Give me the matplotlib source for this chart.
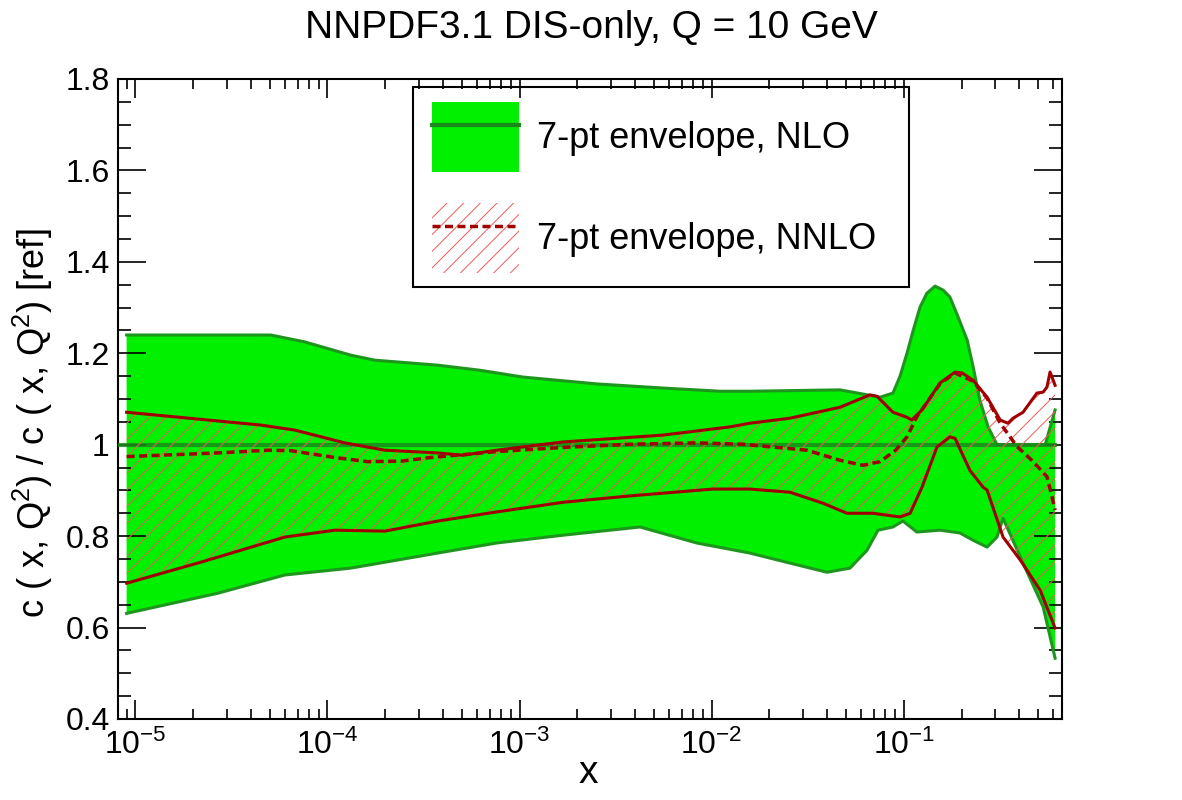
import numpy as np
import matplotlib
matplotlib.use("Agg")
import matplotlib.pyplot as plt
from matplotlib.patches import Patch, Rectangle
from matplotlib.lines import Line2D
from matplotlib.legend_handler import HandlerTuple
from matplotlib.ticker import LogLocator, MultipleLocator, NullFormatter

plt.rcParams['font.family'] = ['Liberation Sans', 'DejaVu Sans']
plt.rcParams['mathtext.fontset'] = 'custom'
plt.rcParams['mathtext.rm'] = 'Liberation Sans'
plt.rcParams['mathtext.it'] = 'Liberation Sans:italic'
plt.rcParams['mathtext.bf'] = 'Liberation Sans:bold'
plt.rcParams['hatch.linewidth'] = 0.7

# NLO 7-pt envelope (green band)
nlo_up_x = [9.0e-6, 5.07e-5, 7.6e-5, 1.32e-4, 1.76e-4, 3.75e-4, 6.2e-4, 1.04e-3, 2.53e-3,
            5.57e-3, 0.01104, 0.0158, 0.0466, 0.0754, 0.0879, 0.0957, 0.104, 0.1122,
            0.1216, 0.1318, 0.1456, 0.1607, 0.174, 0.1888, 0.214, 0.230, 0.249, 0.275,
            0.306, 0.545, 0.614]
nlo_up_y = [1.240, 1.240, 1.225, 1.196, 1.185, 1.174, 1.163, 1.148, 1.133,
            1.124, 1.117, 1.117, 1.120, 1.104, 1.113, 1.150, 1.200, 1.251,
            1.301, 1.331, 1.347, 1.338, 1.323, 1.287, 1.229, 1.170, 1.098, 1.039,
            1.000, 1.000, 1.076]
nlo_lo_x = [9.0e-6, 2.68e-5, 6.0e-5, 1.32e-4, 3.75e-4, 7.6e-4, 1.68e-3, 4.24e-3, 8.37e-3,
            0.0158, 0.0256, 0.0399, 0.0525, 0.0644, 0.0735, 0.0879, 0.0991, 0.117,
            0.1545, 0.196, 0.2296, 0.2716, 0.306, 0.329, 0.418, 0.532, 0.614]
nlo_lo_y = [0.631, 0.675, 0.715, 0.730, 0.763, 0.785, 0.802, 0.820, 0.785,
            0.763, 0.741, 0.721, 0.730, 0.769, 0.813, 0.820, 0.833, 0.809,
            0.813, 0.807, 0.791, 0.776, 0.798, 0.839, 0.741, 0.645, 0.533]

# NNLO 7-pt envelope (hatched band) and central value
nnlo_up_x = [9.0e-6, 4.49e-5, 6.76e-5, 1.23e-4, 1.99e-4, 3.75e-4, 5.07e-4, 7.6e-4, 1.68e-3,
             5.57e-3, 0.01245, 0.0158, 0.0256, 0.0466, 0.0667, 0.0726, 0.0879, 0.104,
             0.110, 0.1245, 0.1545, 0.185, 0.2014, 0.2296, 0.2716, 0.318, 0.349,
             0.371, 0.418, 0.494, 0.532, 0.557, 0.578, 0.614]
nnlo_up_y = [1.071, 1.043, 1.032, 1.004, 0.988, 0.982, 0.977, 0.988, 1.006,
             1.021, 1.039, 1.047, 1.058, 1.082, 1.109, 1.106, 1.071, 1.060,
             1.054, 1.076, 1.135, 1.159, 1.157, 1.141, 1.104, 1.054, 1.047,
             1.058, 1.071, 1.113, 1.115, 1.126, 1.159, 1.130]
nnlo_lo_x = [9.0e-6, 2.19e-5, 6.0e-5, 1.09e-4, 1.99e-4, 3.75e-4, 7.6e-4, 1.68e-3, 3.75e-3,
             0.01016, 0.0158, 0.0256, 0.038, 0.0507, 0.0692, 0.0957, 0.108, 0.1245,
             0.149, 0.174, 0.185, 0.221, 0.259, 0.2716, 0.329, 0.404, 0.513, 0.614]
nnlo_lo_y = [0.697, 0.743, 0.798, 0.813, 0.811, 0.833, 0.853, 0.874, 0.888,
             0.903, 0.903, 0.896, 0.872, 0.850, 0.850, 0.842, 0.850, 0.907,
             0.995, 1.017, 1.014, 0.944, 0.907, 0.901, 0.798, 0.748, 0.682, 0.599]
nnlo_c_x = [9.0e-6, 2.68e-5, 4.89e-5, 6.44e-5, 1.09e-4, 1.62e-4, 2.41e-4, 3.45e-4, 7.6e-4,
            1.68e-3, 3.75e-3, 8.37e-3, 0.01456, 0.0313, 0.0466, 0.0614, 0.0754, 0.0908,
            0.104, 0.1169, 0.1545, 0.185, 0.2296, 0.2716, 0.318, 0.389, 0.464, 0.557,
            0.592, 0.614]
nnlo_c_y = [0.974, 0.982, 0.988, 0.987, 0.972, 0.963, 0.964, 0.972, 0.985,
            0.994, 1.001, 1.004, 1.001, 0.988, 0.966, 0.955, 0.963, 0.988,
            1.017, 1.061, 1.133, 1.157, 1.139, 1.102, 1.047, 0.996, 0.966, 0.930,
            0.886, 0.857]

title = "NNPDF3.1 DIS-only, Q = 10 GeV"
labels = ["7-pt envelope, NLO", "7-pt envelope, NNLO"]

green = '#00f000'
green_edge = '#1e961e'
green_line = '#1a8a1a'
red = '#a00000'
hatch_col = '#f05a5a'

fig = plt.figure(figsize=(11.82, 8), dpi=100)
ax = fig.add_axes([118 / 1182, 1 - 719 / 800, (1062 - 118) / 1182, (719 - 79) / 800])
xmin, xmax = 10 ** -5.0906, 0.667

# green band
ax.fill(np.concatenate([nlo_up_x, nlo_lo_x[::-1]]),
        np.concatenate([nlo_up_y, nlo_lo_y[::-1]]),
        color=green, lw=0, zorder=1)
ax.plot(nlo_up_x, nlo_up_y, color=green_edge, lw=2.2, zorder=2)
ax.plot(nlo_lo_x, nlo_lo_y, color=green_edge, lw=2.2, zorder=2)
ax.plot([xmin, nlo_up_x[-1]], [1.0, 1.0], color=green_line, lw=3, alpha=0.85, zorder=3)

# hatched NNLO band
ax.fill(np.concatenate([nnlo_up_x, nnlo_lo_x[::-1]]),
        np.concatenate([nnlo_up_y, nnlo_lo_y[::-1]]),
        facecolor='none', edgecolor=hatch_col, hatch='//', lw=0, zorder=4)
ax.plot(nnlo_up_x, nnlo_up_y, color=red, lw=2.2, zorder=5)
ax.plot(nnlo_lo_x, nnlo_lo_y, color=red, lw=2.2, zorder=5)
ax.plot(nnlo_c_x, nnlo_c_y, color=red, lw=2.5, ls=(0, (2.3, 1.3)), zorder=5)

ax.set_xscale('log')
ax.set_xlim(xmin, xmax)
ax.set_ylim(0.4, 1.8)
ax.xaxis.set_major_locator(LogLocator(base=10, numticks=10))
ax.xaxis.set_minor_locator(LogLocator(base=10, subs=np.arange(2, 10), numticks=20))
ax.xaxis.set_minor_formatter(NullFormatter())
ax.yaxis.set_major_locator(MultipleLocator(0.2))
ax.yaxis.set_minor_locator(MultipleLocator(0.05))
ax.yaxis.set_major_formatter(plt.FuncFormatter(lambda v, p: f"{v:g}"))

ax.tick_params(axis='both', which='both', direction='in', top=True, right=True,
               width=1.2, labelsize=23, colors='black')
ax.tick_params(axis='y', which='major', length=20, pad=6)
ax.tick_params(axis='y', which='minor', length=9.5)
ax.tick_params(axis='x', which='major', length=14, pad=8)
ax.tick_params(axis='x', which='minor', length=7)
for s in ax.spines.values():
    s.set_linewidth(1.5)

fig.text(591 / 1182, 1 - 28 / 800, title, ha='center', va='center', fontsize=28)
fig.text(588 / 1182, 1 - 773 / 800, "x", ha='center', va='center', fontsize=28)
fig.text(33 / 1182, 1 - 423 / 800, "c ( x, Q$^2$) / c ( x, Q$^2$) [ref]",
         rotation=90, ha='center', va='center', fontsize=26)

# legend
h1 = (Patch(facecolor=green, edgecolor='none'), Line2D([], [], color=green_line, lw=3))
h2 = (Patch(facecolor='none', edgecolor=hatch_col, hatch='//', lw=0),
      Line2D([], [], color=red, lw=2.5, ls=(0, (2.3, 1.3))))
fs = 26 * 100 / 72
fig.legend([h1, h2], labels, handler_map={tuple: HandlerTuple(ndivide=1)},
           loc='upper left', bbox_to_anchor=(432 / 1182, 1 - 102 / 800),
           bbox_transform=fig.transFigure, frameon=False, fontsize=26,
           borderpad=0, borderaxespad=0, handlelength=87 / fs, handleheight=2.606,
           handletextpad=18 / fs, labelspacing=31 / fs)
fig.add_artist(Rectangle((413 / 1182, 1 - 287 / 800), 496 / 1182, 200 / 800,
                         transform=fig.transFigure, fill=False, lw=1.5,
                         edgecolor='black', zorder=10))

fig.savefig("out.png", dpi=100)
